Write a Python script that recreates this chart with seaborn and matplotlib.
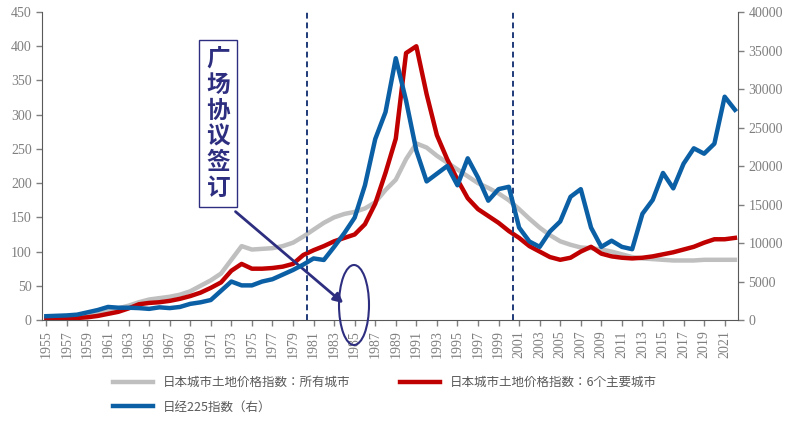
import matplotlib

matplotlib.use("Agg")

import matplotlib.pyplot as plt  # noqa: E402
import pandas as pd  # noqa: E402
import seaborn as sns  # noqa: E402
from matplotlib.patches import Ellipse  # noqa: E402

years = list(range(1955, 2023))

all_cities = [3, 4, 5, 6, 8, 10, 14, 17, 21, 26, 30, 32, 34, 37, 42, 50, 58, 68, 88, 108,
              103, 104, 105, 108, 113, 122, 132, 142, 150, 155, 158, 163, 172, 190, 205, 235,
              258, 252, 240, 230, 220, 210, 200, 193, 185, 175, 162, 148, 135, 124, 115, 110,
              106, 105, 103, 100, 96, 92, 90, 89, 88, 87, 87, 87, 88, 88, 88, 88]

six_cities = [2, 2, 3, 3, 4, 6, 9, 12, 17, 23, 25, 26, 28, 31, 35, 40, 47, 55, 72, 82,
              75, 75, 76, 78, 82, 95, 102, 108, 115, 120, 125, 140, 170, 215, 265, 390,
              400, 330, 270, 235, 205, 178, 162, 152, 142, 130, 120, 108, 100, 92, 88, 91,
              100, 107, 97, 93, 91, 90, 91, 93, 96, 99, 103, 107, 113, 118, 118, 120]

nikkei = [500, 550, 600, 700, 1000, 1300, 1700, 1600, 1600, 1550, 1450, 1650, 1550, 1700,
          2100, 2300, 2600, 3800, 5000, 4500, 4500, 5000, 5300, 5900, 6500, 7200, 8000, 7800,
          9500, 11300, 13300, 17500, 23500, 27000, 34000, 28500, 22000, 18000, 19000, 20000,
          17500, 21000, 18500, 15500, 17000, 17300, 12000, 10200, 9500, 11500, 12800, 16000,
          17000, 12000, 9500, 10300, 9500, 9200, 13800, 15600, 19100, 17100, 20300, 22300,
          21600, 22900, 29000, 27300]

lbl_all = "日本城市土地价格指数：所有城市"
lbl_six = "日本城市土地价格指数：6个主要城市"
lbl_nk = "日经225指数（右）"

df = pd.DataFrame({"year": years, "all": all_cities, "six": six_cities, "nk": nikkei})

cjk = ["Noto Sans CJK SC", "Noto Sans CJK JP", "Noto Sans CJK TC", "Noto Sans CJK KR", "DejaVu Sans"]
plt.rcParams["font.family"] = cjk
serif = "Liberation Serif"
tick_col = "#7f7f7f"

fig = plt.figure(figsize=(7.97, 4.29), dpi=100)
ax = fig.add_axes([0.053, 0.254, 0.873, 0.718])
ax2 = ax.twinx()

sns.lineplot(data=df, x="year", y="all", ax=ax, color="#bfbfbf", lw=3.2, label=lbl_all, legend=False)
sns.lineplot(data=df, x="year", y="six", ax=ax, color="#c00000", lw=3.2, label=lbl_six, legend=False)
sns.lineplot(data=df, x="year", y="nk", ax=ax2, color="#0b5fa5", lw=3.2, label=lbl_nk, legend=False)

for x in (1980.4, 2000.4):
    ax.axvline(x, color="#1f3a7a", ls=(0, (3, 2)), lw=1.4)

ax.set_xlim(1954.6, 2022.3)
ax.set_ylim(0, 450)
ax2.set_ylim(0, 40000)
ax.set_yticks(range(0, 451, 50))
ax2.set_yticks(range(0, 40001, 5000))
ax.set_xticks(years[::2])
ax.set_xticklabels([str(y) for y in years[::2]], rotation=90)
for a in (ax, ax2):
    a.set_xlabel("")
    a.set_ylabel("")
    for s in a.spines.values():
        s.set_visible(False)
    a.tick_params(colors=tick_col, labelsize=10, width=1, length=4)
    for t in a.get_xticklabels() + a.get_yticklabels():
        t.set_fontfamily(serif)
        t.set_color(tick_col)
ax.spines["left"].set_visible(True)
ax.spines["bottom"].set_visible(True)
ax2.spines["right"].set_visible(True)
for s in (ax.spines["left"], ax.spines["bottom"], ax2.spines["right"]):
    s.set_color("#595959")

# annotation
fig.text(0.274, 0.712, "广\n场\n协\n议\n签\n订", fontsize=17, fontweight="bold",
         color="#2e2e80", ha="center", va="center", linespacing=1.1,
         bbox=dict(boxstyle="square,pad=0.3", fc="white", ec="#2e2e80", lw=1))
ax.annotate("", xy=(1984.1, 22), xytext=(1973.2, 161),
            arrowprops=dict(arrowstyle="-|>", color="#2e2e80", lw=2, mutation_scale=14))
fig.patches.append(Ellipse((354 / 797, 1 - 305 / 429), 30 / 797, 80 / 429, transform=fig.transFigure,
                           fill=False, ec="#2e2e80", lw=1.5))

h1, l1 = ax.get_legend_handles_labels()
h2, l2 = ax2.get_legend_handles_labels()
handles = [h1[0], h2[0], h1[1]]
labels = [l1[0], l2[0], l1[1]]
fig.legend(handles, labels, loc="upper left", bbox_to_anchor=(0.135, 0.135), ncol=2, frameon=False,
           prop={"size": 9}, labelcolor="#595959", columnspacing=4, handlelength=3.2,
           borderaxespad=0, labelspacing=0.9)

fig.savefig("out.png", dpi=100)
